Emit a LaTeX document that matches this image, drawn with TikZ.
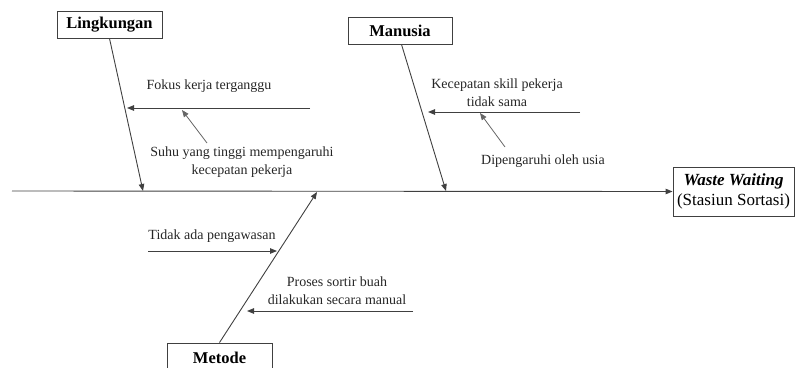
\documentclass[tikz,border=0pt]{standalone}
\usepackage{fontspec}
\setmainfont{Liberation Serif}
\usetikzlibrary{arrows.meta}
\begin{document}
\begin{tikzpicture}[x=1pt,y=-1pt,
  line/.style={draw=black!75, line width=0.9pt},
  arr/.style={line, -{Triangle[length=7pt,width=5.5pt]}},
  thin arr/.style={draw=black!60, line width=0.8pt, -{Triangle[length=7pt,width=5.5pt]}},
  catbox/.style={draw=black!75, line width=0.9pt, fill=white, inner sep=0pt,
    font=\fontsize{16.5}{19}\selectfont\bfseries},
  lbl/.style={inner sep=0pt, align=center, text=black!85,
    font=\fontsize{14}{18}\selectfont}]
\clip (0,0) rectangle (795,367);
\useasboundingbox (0,0) rectangle (795,367);

% effect box at the head of the fish
\node[draw=black!75, line width=0.9pt, inner sep=0pt, minimum width=121pt, minimum height=49pt,
      align=center, font=\fontsize{17}{20}\selectfont] (eff) at (733.5,191.5)
  {\textbf{\textit{Waste Waiting}}\\(Stasiun Sortasi)};

% spine
\coordinate (tail) at (12,191);
\draw[arr] (tail) -- (eff.west);

% category boxes
\node[catbox, minimum width=105pt, minimum height=27pt] (ling) at (109.5,24.5) {Lingkungan};
\node[catbox, minimum width=104pt, minimum height=27pt] (man) at (400,30.5) {Manusia};
\node[catbox, minimum width=105pt, minimum height=30pt] (met) at (219.5,358) {Metode};

% bone tips on the spine
\coordinate (lingTip) at (143,191);
\coordinate (manTip) at (446,191);
\coordinate (metTip) at (317,192);

\draw[arr] (ling.south) -- (lingTip);
\draw[arr] ([xshift=1.5pt]man.south) -- (manTip);
\draw[arr] (met.north) -- (metTip);

% Lingkungan causes
\node[lbl] (fokus) at (209,86) {Fokus kerja terganggu};
\coordinate (fokusA) at (310,108);
\coordinate (fokusB) at (127,108);
\draw[arr] (fokusA) -- (fokusB);

\node[lbl] (suhu) at (242,162) {Suhu yang tinggi mempengaruhi\\kecepatan pekerja};
\coordinate (suhuA) at (207,143);
\coordinate (suhuB) at (182,110);
\draw[thin arr] (suhuA) -- (suhuB);

% Manusia causes
\node[lbl] (skill) at (497,93) {Kecepatan skill pekerja\\tidak sama};
\coordinate (skillA) at (580,112);
\coordinate (skillB) at (428,112);
\draw[arr] (skillA) -- (skillB);

\node[lbl] (usia) at (543,161) {Dipengaruhi oleh usia};
\coordinate (usiaA) at (505,147);
\coordinate (usiaB) at (480,113);
\draw[thin arr] (usiaA) -- (usiaB);

% Metode causes
\node[lbl] (awas) at (212,236) {Tidak ada pengawasan};
\coordinate (awasA) at (148,251);
\coordinate (awasB) at (277,251);
\draw[arr] (awasA) -- (awasB);

\node[lbl] (sortir) at (337,291) {Proses sortir buah\\dilakukan secara manual};
\coordinate (sortirA) at (413,311);
\coordinate (sortirB) at (247,311);
\draw[arr] (sortirA) -- (sortirB);
\end{tikzpicture}
\end{document}
